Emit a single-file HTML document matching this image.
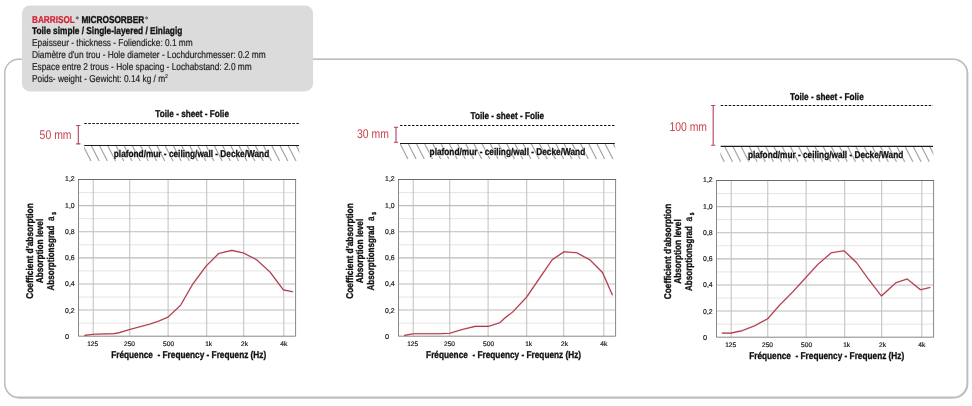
<!DOCTYPE html>
<html><head><meta charset="utf-8"><title>Barrisol Microsorber</title>
<style>
html,body{margin:0;padding:0;background:#fff;}
body{width:972px;height:406px;overflow:hidden;font-family:"Liberation Sans", sans-serif;}
svg{display:block;will-change:transform;text-rendering:geometricPrecision;font-family:"Liberation Sans", sans-serif;}
</style></head><body>
<svg width="972" height="406" viewBox="0 0 972 406">
<defs>
<filter id="sh" x="-5%" y="-5%" width="110%" height="110%"><feGaussianBlur stdDeviation="0.7"/></filter>
</defs>
<rect width="972" height="406" fill="#fff"/>

<rect x="4.8" y="59.2" width="962.3" height="338.1" rx="14" ry="14" fill="none" stroke="#c0c0c0" stroke-width="1.8" filter="url(#sh)" transform="translate(0.4,0.5)"/>
<rect x="4.8" y="59.2" width="962.3" height="338.1" rx="14" ry="14" fill="#fff" stroke="#bdbdbd" stroke-width="1.4"/>
<rect x="21.9" y="5.4" width="291.2" height="86" rx="8" ry="8" fill="#dbdbdb"/>
<text x="32.0" y="22.9" font-size="10" font-weight="bold" fill="#d3202f" text-anchor="start" textLength="42.8" lengthAdjust="spacingAndGlyphs" stroke="#d3202f" stroke-width="0.2">BARRISOL</text>
<circle cx="77.3" cy="17.9" r="1.05" fill="#9a9a9a" stroke="#3c3c3c" stroke-width="0.75"/>
<text x="81.4" y="22.9" font-size="10" font-weight="bold" fill="#111" text-anchor="start" textLength="62.9" lengthAdjust="spacingAndGlyphs" stroke="#111" stroke-width="0.33">MICROSORBER</text>
<circle cx="146.6" cy="17.9" r="1.0" fill="#9a9a9a" stroke="#3c3c3c" stroke-width="0.75"/>
<text x="32.0" y="33.8" font-size="10" font-weight="bold" fill="#111" text-anchor="start" textLength="150.3" lengthAdjust="spacingAndGlyphs" stroke="#111" stroke-width="0.33">Toile simple / Single-layered / Einlagig</text>
<text x="32.0" y="45.6" font-size="10" font-weight="normal" fill="#1c1c1c" text-anchor="start" textLength="160.7" lengthAdjust="spacingAndGlyphs" stroke="#1c1c1c" stroke-width="0.18">Epaisseur - thickness - Foliendicke: 0.1 mm</text>
<text x="32.0" y="57.6" font-size="10" font-weight="normal" fill="#1c1c1c" text-anchor="start" textLength="233.7" lengthAdjust="spacingAndGlyphs" stroke="#1c1c1c" stroke-width="0.18">Diamètre d'un trou - Hole diameter - Lochdurchmesser: 0.2 mm</text>
<text x="32.0" y="69.7" font-size="10" font-weight="normal" fill="#1c1c1c" text-anchor="start" textLength="219.7" lengthAdjust="spacingAndGlyphs" stroke="#1c1c1c" stroke-width="0.18">Espace entre 2 trous - Hole spacing - Lochabstand: 2.0 mm</text>
<text x="32.0" y="81.7" font-size="10" font-weight="normal" fill="#1c1c1c" text-anchor="start" textLength="135.7" lengthAdjust="spacingAndGlyphs" stroke="#1c1c1c" stroke-width="0.18">Poids- weight - Gewicht: 0.14 kg / m<tspan font-size="5.5" dy="-3.4">2</tspan></text>
<text x="192.15" y="117.4" font-size="9.8" font-weight="bold" fill="#111" text-anchor="middle" textLength="73.6" lengthAdjust="spacingAndGlyphs" stroke="#111" stroke-width="0.33">Toile - sheet - Folie</text>
<line x1="84.3" y1="123.5" x2="299" y2="123.5" stroke="#151515" stroke-width="1.15" stroke-dasharray="2.5,1.5"/>
<clipPath id="hc1"><rect x="83.89999999999999" y="145.5" width="215.5" height="17"/></clipPath>
<path d="M83.3 146.0 l7.7 15 M91.5 146.0 l7.7 15 M99.7 146.0 l7.7 15 M107.9 146.0 l7.7 15 M116.1 146.0 l7.7 15 M124.3 146.0 l7.7 15 M132.5 146.0 l7.7 15 M140.7 146.0 l7.7 15 M148.9 146.0 l7.7 15 M157.1 146.0 l7.7 15 M165.3 146.0 l7.7 15 M173.5 146.0 l7.7 15 M181.7 146.0 l7.7 15 M189.9 146.0 l7.7 15 M198.1 146.0 l7.7 15 M206.3 146.0 l7.7 15 M214.5 146.0 l7.7 15 M222.7 146.0 l7.7 15 M230.9 146.0 l7.7 15 M239.1 146.0 l7.7 15 M247.3 146.0 l7.7 15 M255.5 146.0 l7.7 15 M263.7 146.0 l7.7 15 M271.9 146.0 l7.7 15 M280.1 146.0 l7.7 15 M288.3 146.0 l7.7 15 M296.5 146.0 l7.7 15" stroke="#a4a4a4" stroke-width="1.2" fill="none" clip-path="url(#hc1)"/>
<line x1="84.3" y1="145.5" x2="299" y2="145.5" stroke="#1a1a1a" stroke-width="1.15"/>
<text x="113.8" y="156.7" font-size="9.8" font-weight="bold" fill="#fff" text-anchor="start" textLength="155.39999999999998" lengthAdjust="spacingAndGlyphs" stroke="#fff" stroke-width="1.4" stroke-linejoin="round">plafond/mur - ceiling/wall - Decke/Wand</text>
<text x="113.8" y="156.7" font-size="9.8" font-weight="bold" fill="#111" text-anchor="start" textLength="155.39999999999998" lengthAdjust="spacingAndGlyphs" stroke="#111" stroke-width="0.33">plafond/mur - ceiling/wall - Decke/Wand</text>
<text x="39.6" y="138.9" font-size="12.6" font-weight="normal" fill="#c8444f" text-anchor="start" textLength="31.999999999999993" lengthAdjust="spacingAndGlyphs">50 mm</text>
<path d="M78.3 125.5 V143.9 M76.2 125.5 h4.2 M76.2 143.9 h4.2" stroke="#b5405a" stroke-width="1.1" fill="none"/>
<text x="507.3" y="119.4" font-size="9.8" font-weight="bold" fill="#111" text-anchor="middle" textLength="73.6" lengthAdjust="spacingAndGlyphs" stroke="#111" stroke-width="0.33">Toile - sheet - Folie</text>
<line x1="400" y1="125.5" x2="614.8" y2="125.5" stroke="#151515" stroke-width="1.15" stroke-dasharray="2.5,1.5"/>
<clipPath id="hc2"><rect x="399.6" y="143.5" width="215.59999999999997" height="17"/></clipPath>
<path d="M400.2 144.0 l7.7 15 M408.4 144.0 l7.7 15 M416.6 144.0 l7.7 15 M424.8 144.0 l7.7 15 M433.0 144.0 l7.7 15 M441.2 144.0 l7.7 15 M449.4 144.0 l7.7 15 M457.6 144.0 l7.7 15 M465.8 144.0 l7.7 15 M474.0 144.0 l7.7 15 M482.2 144.0 l7.7 15 M490.4 144.0 l7.7 15 M498.6 144.0 l7.7 15 M506.8 144.0 l7.7 15 M515.0 144.0 l7.7 15 M523.2 144.0 l7.7 15 M531.4 144.0 l7.7 15 M539.6 144.0 l7.7 15 M547.8 144.0 l7.7 15 M556.0 144.0 l7.7 15 M564.2 144.0 l7.7 15 M572.4 144.0 l7.7 15 M580.6 144.0 l7.7 15 M588.8 144.0 l7.7 15 M597.0 144.0 l7.7 15 M605.2 144.0 l7.7 15 M613.4 144.0 l7.7 15" stroke="#a4a4a4" stroke-width="1.2" fill="none" clip-path="url(#hc2)"/>
<line x1="400" y1="143.5" x2="614.8" y2="143.5" stroke="#1a1a1a" stroke-width="1.15"/>
<text x="429.6" y="154.6" font-size="9.8" font-weight="bold" fill="#fff" text-anchor="start" textLength="155.60000000000002" lengthAdjust="spacingAndGlyphs" stroke="#fff" stroke-width="1.4" stroke-linejoin="round">plafond/mur - ceiling/wall - Decke/Wand</text>
<text x="429.6" y="154.6" font-size="9.8" font-weight="bold" fill="#111" text-anchor="start" textLength="155.60000000000002" lengthAdjust="spacingAndGlyphs" stroke="#111" stroke-width="0.33">plafond/mur - ceiling/wall - Decke/Wand</text>
<text x="357" y="137.7" font-size="12.6" font-weight="normal" fill="#c8444f" text-anchor="start" textLength="31.899999999999977" lengthAdjust="spacingAndGlyphs">30 mm</text>
<path d="M396 127.3 V142.2 M393.9 127.3 h4.2 M393.9 142.2 h4.2" stroke="#b5405a" stroke-width="1.1" fill="none"/>
<text x="826.9" y="100.4" font-size="9.8" font-weight="bold" fill="#111" text-anchor="middle" textLength="73.6" lengthAdjust="spacingAndGlyphs" stroke="#111" stroke-width="0.33">Toile - sheet - Folie</text>
<line x1="720.7" y1="105.5" x2="933" y2="105.5" stroke="#151515" stroke-width="1.15" stroke-dasharray="2.5,1.5"/>
<clipPath id="hc3"><rect x="720.3000000000001" y="146.3" width="213.09999999999997" height="17"/></clipPath>
<path d="M716.6 146.8 l7.7 15 M724.8 146.8 l7.7 15 M733.0 146.8 l7.7 15 M741.2 146.8 l7.7 15 M749.4 146.8 l7.7 15 M757.6 146.8 l7.7 15 M765.8 146.8 l7.7 15 M774.0 146.8 l7.7 15 M782.2 146.8 l7.7 15 M790.4 146.8 l7.7 15 M798.6 146.8 l7.7 15 M806.8 146.8 l7.7 15 M815.0 146.8 l7.7 15 M823.2 146.8 l7.7 15 M831.4 146.8 l7.7 15 M839.6 146.8 l7.7 15 M847.8 146.8 l7.7 15 M856.0 146.8 l7.7 15 M864.2 146.8 l7.7 15 M872.4 146.8 l7.7 15 M880.6 146.8 l7.7 15 M888.8 146.8 l7.7 15 M897.0 146.8 l7.7 15 M905.2 146.8 l7.7 15 M913.4 146.8 l7.7 15 M921.6 146.8 l7.7 15 M929.8 146.8 l7.7 15" stroke="#a4a4a4" stroke-width="1.2" fill="none" clip-path="url(#hc3)"/>
<line x1="720.7" y1="146.3" x2="933" y2="146.3" stroke="#1a1a1a" stroke-width="1.15"/>
<text x="747.9" y="157.7" font-size="9.8" font-weight="bold" fill="#fff" text-anchor="start" textLength="155.39999999999998" lengthAdjust="spacingAndGlyphs" stroke="#fff" stroke-width="1.4" stroke-linejoin="round">plafond/mur - ceiling/wall - Decke/Wand</text>
<text x="747.9" y="157.7" font-size="9.8" font-weight="bold" fill="#111" text-anchor="start" textLength="155.39999999999998" lengthAdjust="spacingAndGlyphs" stroke="#111" stroke-width="0.33">plafond/mur - ceiling/wall - Decke/Wand</text>
<text x="669.4" y="130.6" font-size="12.6" font-weight="normal" fill="#c8444f" text-anchor="start" textLength="37.60000000000002" lengthAdjust="spacingAndGlyphs">100 mm</text>
<path d="M713.2 105.5 V145.3 M711.1 105.5 h4.2 M711.1 145.3 h4.2" stroke="#b5405a" stroke-width="1.1" fill="none"/>
<path d="M78.5 192.56 H295.6 M78.5 218.68 H295.6 M78.5 244.79 H295.6 M78.5 270.91 H295.6 M78.5 297.02 H295.6 M78.5 323.14 H295.6" stroke="#e4e4e4" stroke-width="1" fill="none"/>
<path d="M78.5 205.62 H295.6 M78.5 231.73 H295.6 M78.5 257.85 H295.6 M78.5 283.97 H295.6 M78.5 310.08 H295.6" stroke="#bcbcbc" stroke-width="1.05" fill="none"/>
<path d="M93.2 179.5 V336.2 M129.75 179.5 V336.2 M168.1 179.5 V336.2 M206.7 179.5 V336.2 M243.7 179.5 V336.2 M283.8 179.5 V336.2" stroke="#c2c2c2" stroke-width="1.05" fill="none"/>
<path d="M78.5 179.5 V336.2 H295.6 V179.5" fill="none" stroke="#878787" stroke-width="1"/>
<path d="M78.0 179.5 H296.1" fill="none" stroke="#6c6c6c" stroke-width="1.1"/>
<text x="65.1" y="181.3" font-size="7" font-weight="normal" fill="#1a1a1a" text-anchor="start" textLength="9.6" lengthAdjust="spacingAndGlyphs" stroke="#1a1a1a" stroke-width="0.2">1,2</text>
<text x="65.1" y="208.3" font-size="7" font-weight="normal" fill="#1a1a1a" text-anchor="start" textLength="9.6" lengthAdjust="spacingAndGlyphs" stroke="#1a1a1a" stroke-width="0.2">1,0</text>
<text x="65.1" y="234.3" font-size="7" font-weight="normal" fill="#1a1a1a" text-anchor="start" textLength="9.6" lengthAdjust="spacingAndGlyphs" stroke="#1a1a1a" stroke-width="0.2">0,8</text>
<text x="65.1" y="260.3" font-size="7" font-weight="normal" fill="#1a1a1a" text-anchor="start" textLength="9.6" lengthAdjust="spacingAndGlyphs" stroke="#1a1a1a" stroke-width="0.2">0,6</text>
<text x="65.1" y="286.3" font-size="7" font-weight="normal" fill="#1a1a1a" text-anchor="start" textLength="9.6" lengthAdjust="spacingAndGlyphs" stroke="#1a1a1a" stroke-width="0.2">0,4</text>
<text x="65.1" y="313.3" font-size="7" font-weight="normal" fill="#1a1a1a" text-anchor="start" textLength="9.6" lengthAdjust="spacingAndGlyphs" stroke="#1a1a1a" stroke-width="0.2">0,2</text>
<text x="65.1" y="339.3" font-size="7" font-weight="normal" fill="#1a1a1a" text-anchor="start" textLength="4.1" lengthAdjust="spacingAndGlyphs" stroke="#1a1a1a" stroke-width="0.2">0</text>
<text x="92.7" y="345.8" font-size="6.6" font-weight="normal" fill="#1a1a1a" text-anchor="middle" stroke="#1a1a1a" stroke-width="0.2">125</text>
<text x="129.55" y="345.8" font-size="6.6" font-weight="normal" fill="#1a1a1a" text-anchor="middle" stroke="#1a1a1a" stroke-width="0.2">250</text>
<text x="168.6" y="345.8" font-size="6.6" font-weight="normal" fill="#1a1a1a" text-anchor="middle" stroke="#1a1a1a" stroke-width="0.2">500</text>
<text x="208.7" y="345.8" font-size="6.6" font-weight="normal" fill="#1a1a1a" text-anchor="middle" stroke="#1a1a1a" stroke-width="0.2">1k</text>
<text x="244.5" y="345.8" font-size="6.6" font-weight="normal" fill="#1a1a1a" text-anchor="middle" stroke="#1a1a1a" stroke-width="0.2">2k</text>
<text x="283.8" y="345.8" font-size="6.6" font-weight="normal" fill="#1a1a1a" text-anchor="middle" stroke="#1a1a1a" stroke-width="0.2">4k</text>
<path d="M84.8 335.4 L93.5 334.2 L114.4 333.6 L119.4 332.6 L130.5 329.3 L150.2 324.0 L158.9 321.1 L168.3 316.9 L180.7 305.1 L192.5 284.4 L206.3 265.9 L218.7 253.5 L231.8 250.4 L243.5 253.0 L256.8 259.9 L270.1 272.2 L283.4 289.9 L292.6 291.7" stroke="#e9a3ab" stroke-width="1.9" stroke-opacity="0.4" fill="none" stroke-linejoin="round" stroke-linecap="round"/>
<path d="M84.8 335.4 L93.5 334.2 L114.4 333.6 L119.4 332.6 L130.5 329.3 L150.2 324.0 L158.9 321.1 L168.3 316.9 L180.7 305.1 L192.5 284.4 L206.3 265.9 L218.7 253.5 L231.8 250.4 L243.5 253.0 L256.8 259.9 L270.1 272.2 L283.4 289.9 L292.6 291.7" stroke="#ab3848" stroke-width="1.1" fill="none" stroke-linejoin="round" stroke-linecap="round"/>
<text x="111.2" y="357.9" font-size="9.8" font-weight="bold" fill="#111" text-anchor="start" textLength="155" lengthAdjust="spacingAndGlyphs" stroke="#111" stroke-width="0.33">Fréquence&#160;&#160;- Frequency - Frequenz (Hz)</text>
<text transform="translate(32.8,251.0) rotate(-90)" font-size="9.8" font-weight="bold" fill="#111" text-anchor="middle" textLength="95.5" lengthAdjust="spacingAndGlyphs" stroke="#111" stroke-width="0.33">Coefficient d'absorption</text>
<text transform="translate(43.3,251.0) rotate(-90)" font-size="9.8" font-weight="bold" fill="#111" text-anchor="middle" textLength="64.4" lengthAdjust="spacingAndGlyphs" stroke="#111" stroke-width="0.33">Absorption level</text>
<text transform="translate(53.699999999999996,290.5) rotate(-90)" font-size="9.8" font-weight="bold" fill="#111" textLength="65" lengthAdjust="spacingAndGlyphs" stroke="#111" stroke-width="0.33">Absorptionsgrad</text>
<text transform="translate(53.9,221.0) rotate(-90)" font-size="10" fill="#111" textLength="4.6" lengthAdjust="spacingAndGlyphs" stroke="#111" stroke-width="0.38">a</text>
<text transform="translate(55.8,214.7) rotate(-90)" font-size="7.4" font-weight="bold" fill="#111" textLength="2.7" lengthAdjust="spacingAndGlyphs" stroke="#111" stroke-width="0.45">s</text>
<path d="M398.5 192.56 H615.6 M398.5 218.68 H615.6 M398.5 244.79 H615.6 M398.5 270.91 H615.6 M398.5 297.02 H615.6 M398.5 323.14 H615.6" stroke="#e4e4e4" stroke-width="1" fill="none"/>
<path d="M398.5 205.62 H615.6 M398.5 231.73 H615.6 M398.5 257.85 H615.6 M398.5 283.97 H615.6 M398.5 310.08 H615.6" stroke="#bcbcbc" stroke-width="1.05" fill="none"/>
<path d="M413.2 179.5 V336.2 M449.75 179.5 V336.2 M488.1 179.5 V336.2 M526.7 179.5 V336.2 M563.7 179.5 V336.2 M603.8 179.5 V336.2" stroke="#c2c2c2" stroke-width="1.05" fill="none"/>
<path d="M398.5 179.5 V336.2 H615.6 V179.5" fill="none" stroke="#878787" stroke-width="1"/>
<path d="M398.0 179.5 H616.1" fill="none" stroke="#6c6c6c" stroke-width="1.1"/>
<text x="385.1" y="181.3" font-size="7" font-weight="normal" fill="#1a1a1a" text-anchor="start" textLength="9.6" lengthAdjust="spacingAndGlyphs" stroke="#1a1a1a" stroke-width="0.2">1,2</text>
<text x="385.1" y="208.3" font-size="7" font-weight="normal" fill="#1a1a1a" text-anchor="start" textLength="9.6" lengthAdjust="spacingAndGlyphs" stroke="#1a1a1a" stroke-width="0.2">1,0</text>
<text x="385.1" y="234.3" font-size="7" font-weight="normal" fill="#1a1a1a" text-anchor="start" textLength="9.6" lengthAdjust="spacingAndGlyphs" stroke="#1a1a1a" stroke-width="0.2">0,8</text>
<text x="385.1" y="260.3" font-size="7" font-weight="normal" fill="#1a1a1a" text-anchor="start" textLength="9.6" lengthAdjust="spacingAndGlyphs" stroke="#1a1a1a" stroke-width="0.2">0,6</text>
<text x="385.1" y="286.3" font-size="7" font-weight="normal" fill="#1a1a1a" text-anchor="start" textLength="9.6" lengthAdjust="spacingAndGlyphs" stroke="#1a1a1a" stroke-width="0.2">0,4</text>
<text x="385.1" y="313.3" font-size="7" font-weight="normal" fill="#1a1a1a" text-anchor="start" textLength="9.6" lengthAdjust="spacingAndGlyphs" stroke="#1a1a1a" stroke-width="0.2">0,2</text>
<text x="385.1" y="339.3" font-size="7" font-weight="normal" fill="#1a1a1a" text-anchor="start" textLength="4.1" lengthAdjust="spacingAndGlyphs" stroke="#1a1a1a" stroke-width="0.2">0</text>
<text x="412.7" y="345.8" font-size="6.6" font-weight="normal" fill="#1a1a1a" text-anchor="middle" stroke="#1a1a1a" stroke-width="0.2">125</text>
<text x="449.55" y="345.8" font-size="6.6" font-weight="normal" fill="#1a1a1a" text-anchor="middle" stroke="#1a1a1a" stroke-width="0.2">250</text>
<text x="488.6" y="345.8" font-size="6.6" font-weight="normal" fill="#1a1a1a" text-anchor="middle" stroke="#1a1a1a" stroke-width="0.2">500</text>
<text x="528.7" y="345.8" font-size="6.6" font-weight="normal" fill="#1a1a1a" text-anchor="middle" stroke="#1a1a1a" stroke-width="0.2">1k</text>
<text x="564.5" y="345.8" font-size="6.6" font-weight="normal" fill="#1a1a1a" text-anchor="middle" stroke="#1a1a1a" stroke-width="0.2">2k</text>
<text x="603.8" y="345.8" font-size="6.6" font-weight="normal" fill="#1a1a1a" text-anchor="middle" stroke="#1a1a1a" stroke-width="0.2">4k</text>
<path d="M404.6 335.4 L413.5 333.8 L439.4 333.8 L449.9 333.2 L462.2 329.5 L475.2 326.4 L488.1 326.4 L499.9 322.7 L503.9 318.8 L512.8 311.9 L526.6 297.1 L539.4 278.4 L552.2 259.7 L564.0 251.8 L576.8 252.8 L589.7 259.7 L602.5 272.5 L612.3 294.8" stroke="#e9a3ab" stroke-width="1.9" stroke-opacity="0.4" fill="none" stroke-linejoin="round" stroke-linecap="round"/>
<path d="M404.6 335.4 L413.5 333.8 L439.4 333.8 L449.9 333.2 L462.2 329.5 L475.2 326.4 L488.1 326.4 L499.9 322.7 L503.9 318.8 L512.8 311.9 L526.6 297.1 L539.4 278.4 L552.2 259.7 L564.0 251.8 L576.8 252.8 L589.7 259.7 L602.5 272.5 L612.3 294.8" stroke="#ab3848" stroke-width="1.1" fill="none" stroke-linejoin="round" stroke-linecap="round"/>
<text x="426.1" y="357.9" font-size="9.8" font-weight="bold" fill="#111" text-anchor="start" textLength="155" lengthAdjust="spacingAndGlyphs" stroke="#111" stroke-width="0.33">Fréquence&#160;&#160;- Frequency - Frequenz (Hz)</text>
<text transform="translate(352.8,251.0) rotate(-90)" font-size="9.8" font-weight="bold" fill="#111" text-anchor="middle" textLength="95.5" lengthAdjust="spacingAndGlyphs" stroke="#111" stroke-width="0.33">Coefficient d'absorption</text>
<text transform="translate(363.3,251.0) rotate(-90)" font-size="9.8" font-weight="bold" fill="#111" text-anchor="middle" textLength="64.4" lengthAdjust="spacingAndGlyphs" stroke="#111" stroke-width="0.33">Absorption level</text>
<text transform="translate(373.7,290.5) rotate(-90)" font-size="9.8" font-weight="bold" fill="#111" textLength="65" lengthAdjust="spacingAndGlyphs" stroke="#111" stroke-width="0.33">Absorptionsgrad</text>
<text transform="translate(373.9,221.0) rotate(-90)" font-size="10" fill="#111" textLength="4.6" lengthAdjust="spacingAndGlyphs" stroke="#111" stroke-width="0.38">a</text>
<text transform="translate(375.8,214.7) rotate(-90)" font-size="7.4" font-weight="bold" fill="#111" textLength="2.7" lengthAdjust="spacingAndGlyphs" stroke="#111" stroke-width="0.45">s</text>
<path d="M716.5 193.56 H933.6 M716.5 219.68 H933.6 M716.5 245.79 H933.6 M716.5 271.91 H933.6 M716.5 298.02 H933.6 M716.5 324.14 H933.6" stroke="#e4e4e4" stroke-width="1" fill="none"/>
<path d="M716.5 206.62 H933.6 M716.5 232.73 H933.6 M716.5 258.85 H933.6 M716.5 284.97 H933.6 M716.5 311.08 H933.6" stroke="#bcbcbc" stroke-width="1.05" fill="none"/>
<path d="M731.2 180.5 V337.2 M767.75 180.5 V337.2 M806.1 180.5 V337.2 M844.7 180.5 V337.2 M881.7 180.5 V337.2 M921.8 180.5 V337.2" stroke="#c2c2c2" stroke-width="1.05" fill="none"/>
<path d="M716.5 180.5 V337.2 H933.6 V180.5" fill="none" stroke="#878787" stroke-width="1"/>
<path d="M716.0 180.5 H934.1" fill="none" stroke="#6c6c6c" stroke-width="1.1"/>
<text x="703.1" y="182.3" font-size="7" font-weight="normal" fill="#1a1a1a" text-anchor="start" textLength="9.6" lengthAdjust="spacingAndGlyphs" stroke="#1a1a1a" stroke-width="0.2">1,2</text>
<text x="703.1" y="209.3" font-size="7" font-weight="normal" fill="#1a1a1a" text-anchor="start" textLength="9.6" lengthAdjust="spacingAndGlyphs" stroke="#1a1a1a" stroke-width="0.2">1,0</text>
<text x="703.1" y="235.3" font-size="7" font-weight="normal" fill="#1a1a1a" text-anchor="start" textLength="9.6" lengthAdjust="spacingAndGlyphs" stroke="#1a1a1a" stroke-width="0.2">0,8</text>
<text x="703.1" y="261.3" font-size="7" font-weight="normal" fill="#1a1a1a" text-anchor="start" textLength="9.6" lengthAdjust="spacingAndGlyphs" stroke="#1a1a1a" stroke-width="0.2">0,6</text>
<text x="703.1" y="287.3" font-size="7" font-weight="normal" fill="#1a1a1a" text-anchor="start" textLength="9.6" lengthAdjust="spacingAndGlyphs" stroke="#1a1a1a" stroke-width="0.2">0,4</text>
<text x="703.1" y="314.3" font-size="7" font-weight="normal" fill="#1a1a1a" text-anchor="start" textLength="9.6" lengthAdjust="spacingAndGlyphs" stroke="#1a1a1a" stroke-width="0.2">0,2</text>
<text x="703.1" y="340.3" font-size="7" font-weight="normal" fill="#1a1a1a" text-anchor="start" textLength="4.1" lengthAdjust="spacingAndGlyphs" stroke="#1a1a1a" stroke-width="0.2">0</text>
<text x="730.7" y="346.8" font-size="6.6" font-weight="normal" fill="#1a1a1a" text-anchor="middle" stroke="#1a1a1a" stroke-width="0.2">125</text>
<text x="767.55" y="346.8" font-size="6.6" font-weight="normal" fill="#1a1a1a" text-anchor="middle" stroke="#1a1a1a" stroke-width="0.2">250</text>
<text x="806.6" y="346.8" font-size="6.6" font-weight="normal" fill="#1a1a1a" text-anchor="middle" stroke="#1a1a1a" stroke-width="0.2">500</text>
<text x="846.7" y="346.8" font-size="6.6" font-weight="normal" fill="#1a1a1a" text-anchor="middle" stroke="#1a1a1a" stroke-width="0.2">1k</text>
<text x="882.5" y="346.8" font-size="6.6" font-weight="normal" fill="#1a1a1a" text-anchor="middle" stroke="#1a1a1a" stroke-width="0.2">2k</text>
<text x="921.8" y="346.8" font-size="6.6" font-weight="normal" fill="#1a1a1a" text-anchor="middle" stroke="#1a1a1a" stroke-width="0.2">4k</text>
<path d="M722.3 333.1 L730.7 333.1 L742.5 330.6 L754.8 325.7 L767.6 318.8 L779.4 305.3 L793.0 291.7 L805.3 278.2 L817.6 264.6 L831.4 252.7 L844.0 250.7 L856.4 262.5 L869.2 280.2 L881.4 296.0 L895.8 282.8 L907.1 278.9 L920.5 289.7 L929.9 287.5" stroke="#e9a3ab" stroke-width="1.9" stroke-opacity="0.4" fill="none" stroke-linejoin="round" stroke-linecap="round"/>
<path d="M722.3 333.1 L730.7 333.1 L742.5 330.6 L754.8 325.7 L767.6 318.8 L779.4 305.3 L793.0 291.7 L805.3 278.2 L817.6 264.6 L831.4 252.7 L844.0 250.7 L856.4 262.5 L869.2 280.2 L881.4 296.0 L895.8 282.8 L907.1 278.9 L920.5 289.7 L929.9 287.5" stroke="#ab3848" stroke-width="1.1" fill="none" stroke-linejoin="round" stroke-linecap="round"/>
<text x="749.2" y="358.9" font-size="9.8" font-weight="bold" fill="#111" text-anchor="start" textLength="155" lengthAdjust="spacingAndGlyphs" stroke="#111" stroke-width="0.33">Fréquence&#160;&#160;- Frequency - Frequenz (Hz)</text>
<text transform="translate(670.8,251.5) rotate(-90)" font-size="9.8" font-weight="bold" fill="#111" text-anchor="middle" textLength="95.5" lengthAdjust="spacingAndGlyphs" stroke="#111" stroke-width="0.33">Coefficient d'absorption</text>
<text transform="translate(681.3,251.5) rotate(-90)" font-size="9.8" font-weight="bold" fill="#111" text-anchor="middle" textLength="64.4" lengthAdjust="spacingAndGlyphs" stroke="#111" stroke-width="0.33">Absorption level</text>
<text transform="translate(691.6999999999999,291.0) rotate(-90)" font-size="9.8" font-weight="bold" fill="#111" textLength="65" lengthAdjust="spacingAndGlyphs" stroke="#111" stroke-width="0.33">Absorptionsgrad</text>
<text transform="translate(691.9,221.5) rotate(-90)" font-size="10" fill="#111" textLength="4.6" lengthAdjust="spacingAndGlyphs" stroke="#111" stroke-width="0.38">a</text>
<text transform="translate(693.8,215.2) rotate(-90)" font-size="7.4" font-weight="bold" fill="#111" textLength="2.7" lengthAdjust="spacingAndGlyphs" stroke="#111" stroke-width="0.45">s</text>
</svg></body></html>
